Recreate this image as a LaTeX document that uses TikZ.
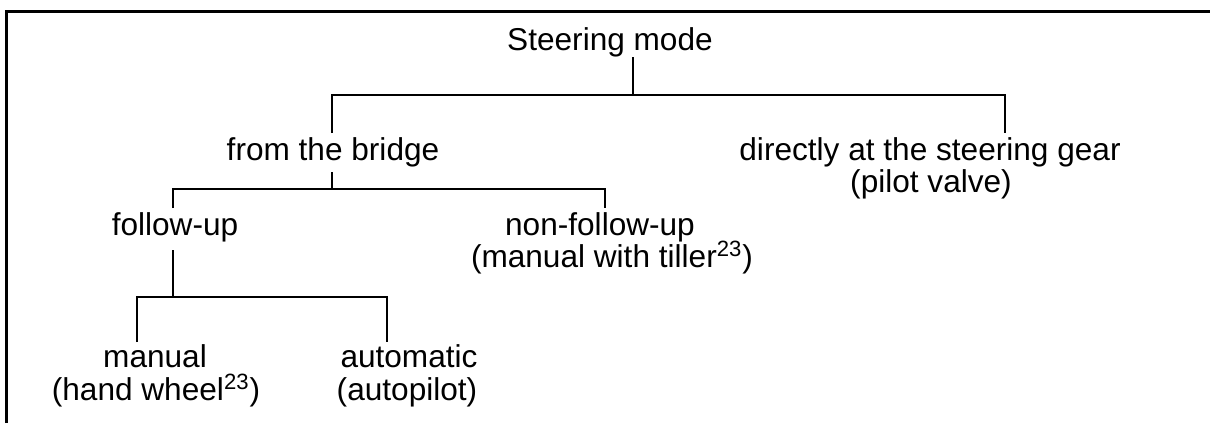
\documentclass[tikz,border=0pt]{standalone}
\usepackage{fontspec}
\setmainfont{Liberation Sans}
\begin{document}
\begin{tikzpicture}[x=0.5pt,y=-0.5pt,
  txt/.style={anchor=base, inner sep=0pt, font=\fontsize{15.8}{18}\selectfont},
  tree/.style={line width=1pt},
  frame/.style={line width=1.5pt}]
\useasboundingbox (0,0) rectangle (1210,423);
% frame
\coordinate (fbl) at (6,423);
\coordinate (ftl) at (6,11);
\coordinate (ftr) at (1210,11);
\draw[frame] (fbl) -- (ftl) -- (ftr);
% texts
\node[txt] (sm) at (610,50) {Steering mode};
\node[txt] (fb) at (333,160) {from the bridge};
\node[txt] (dg) at (930,160) {directly at the steering gear};
\node[txt] (pv) at (931,192) {(pilot valve)};
\node[txt] (fu) at (175,235) {follow-up};
\node[txt] (nf) at (600,235) {non-follow-up};
\node[txt] (mt) at (612,267) {(manual with tiller\textsuperscript{23})};
\node[txt] (ma) at (155,367) {manual};
\node[txt] (hw) at (156,400) {(hand wheel\textsuperscript{23})};
\node[txt] (au) at (409,367) {automatic};
\node[txt] (ap) at (407,400) {(autopilot)};
% junction points
\coordinate (smb) at (633,57);
\coordinate (h1m) at (633,95);
\coordinate (h1l) at (332,95);
\coordinate (h1r) at (1005,95);
\coordinate (fbt) at (332,133);
\coordinate (dgt) at (1005,133);
\coordinate (fbb) at (332,172);
\coordinate (h2m) at (332,189);
\coordinate (h2l) at (173,189);
\coordinate (h2r) at (605,189);
\coordinate (fut) at (173,208);
\coordinate (nft) at (605,208);
\coordinate (fub) at (173,250);
\coordinate (h3m) at (173,297);
\coordinate (h3l) at (137,297);
\coordinate (h3r) at (387,297);
\coordinate (mat) at (137,342);
\coordinate (aut) at (387,342);
% tree
\draw[tree] (smb) -- (h1m);
\draw[tree] (fbt) -- (h1l) -- (h1r) -- (dgt);
\draw[tree] (fbb) -- (h2m);
\draw[tree] (fut) -- (h2l) -- (h2r) -- (nft);
\draw[tree] (fub) -- (h3m);
\draw[tree] (mat) -- (h3l) -- (h3r) -- (aut);
\end{tikzpicture}
\end{document}
